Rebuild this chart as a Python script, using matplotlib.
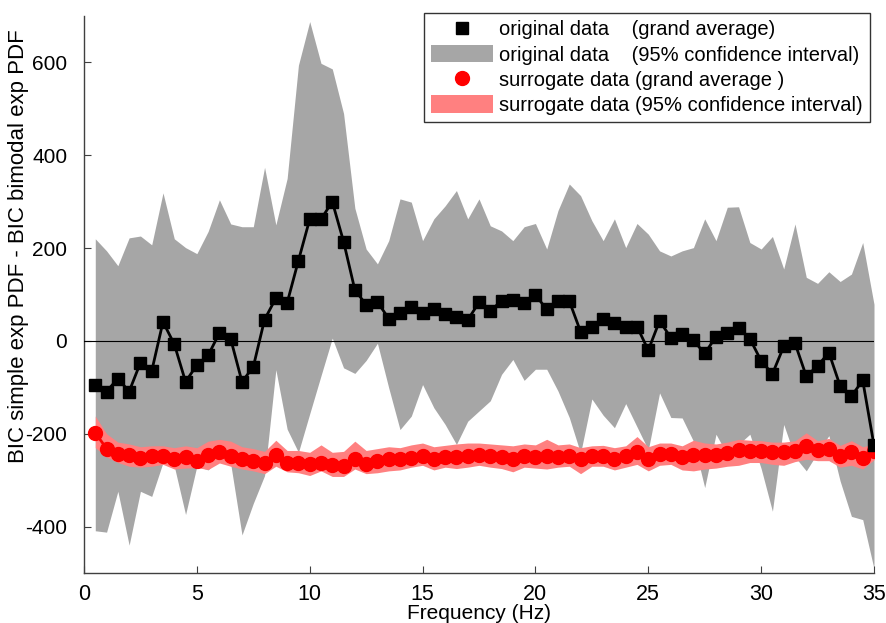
import numpy as np
import matplotlib
matplotlib.use("Agg")
import matplotlib.pyplot as plt
from matplotlib.lines import Line2D
from matplotlib.patches import Patch

plt.rcParams['font.family'] = ['Liberation Sans', 'DejaVu Sans']
plt.rcParams['axes.unicode_minus'] = False

# frequency bins, 0.5 Hz steps
freqs = np.arange(1, 71) * 0.5

orig_mean = [-95, -109, -81, -109, -47, -65, 41, -7, -88, -52,
             -31, 17, 4, -88, -56, 46, 92, 82, 173, 262,
             262, 300, 214, 110, 78, 84, 48, 60, 74, 60,
             68, 58, 52, 45, 83, 65, 86, 88, 81, 99,
             68, 86, 86, 20, 31, 48, 38, 31, 31, -20,
             43, 7, 14, 1, -27, 9, 18, 27, 5, -43,
             -71, -12, -5, -76, -54, -25, -97, -119, -85, -225]

orig_upper = [220, 194, 162, 222, 226, 207, 319, 220, 201, 188,
              236, 304, 252, 246, 246, 374, 250, 350, 594, 688,
              598, 586, 490, 286, 198, 166, 216, 306, 299, 216,
              263, 291, 324, 263, 306, 248, 237, 216, 246, 253,
              198, 281, 338, 313, 259, 216, 263, 201, 253, 230,
              194, 183, 194, 201, 263, 216, 288, 289, 212, 198,
              225, 155, 252, 137, 124, 149, 128, 144, 212, 79]

orig_lower = [-409, -412, -324, -440, -324, -335, -262, -270, -374, -270,
              -278, -252, -265, -418, -350, -290, -62, -190, -240, -157,
              -75, 6, -58, -70, -42, -5, -101, -191, -162, -94,
              -144, -180, -223, -173, -151, -129, -72, -40, -85, -61,
              -61, -108, -165, -242, -125, -160, -187, -135, -185, -235,
              -112, -165, -166, -216, -316, -201, -245, -223, -201, -275,
              -367, -180, -250, -280, -241, -204, -302, -378, -385, -491]

surr_mean = [-198, -232, -243, -245, -253, -248, -248, -254, -250, -259,
             -245, -239, -248, -254, -258, -264, -246, -262, -262, -266,
             -262, -267, -270, -255, -266, -259, -255, -255, -252, -248,
             -255, -250, -250, -247, -245, -248, -250, -255, -248, -250,
             -247, -250, -247, -255, -248, -248, -254, -248, -240, -255,
             -244, -243, -250, -245, -246, -245, -242, -235, -237, -237,
             -240, -240, -237, -227, -236, -233, -247, -240, -252, -238]

surr_upper = [-162, -200, -218, -222, -228, -226, -226, -230, -226, -230,
              -216, -212, -216, -228, -232, -238, -214, -236, -236, -240,
              -224, -240, -238, -216, -236, -232, -228, -230, -224, -220,
              -228, -225, -222, -220, -220, -222, -224, -226, -222, -224,
              -212, -224, -222, -230, -226, -225, -230, -226, -206, -228,
              -220, -220, -226, -214, -220, -222, -218, -212, -214, -215,
              -218, -218, -215, -198, -215, -210, -225, -215, -228, -222]

surr_lower = [-230, -250, -262, -270, -272, -270, -266, -276, -274, -273,
              -277, -263, -270, -276, -280, -286, -270, -282, -284, -290,
              -280, -292, -292, -276, -286, -284, -280, -278, -272, -268,
              -278, -272, -275, -272, -268, -272, -275, -282, -272, -274,
              -276, -272, -270, -286, -270, -270, -278, -272, -266, -280,
              -268, -266, -278, -280, -276, -274, -270, -268, -262, -262,
              -266, -268, -260, -255, -258, -258, -272, -268, -276, -256]

labels = ['original data    (grand average)',
          'original data    (95% confidence interval)',
          'surrogate data (grand average )',
          'surrogate data (95% confidence interval)']

gray = '#a6a6a6'
pink = '#ff8080'

fig = plt.figure(figsize=(8.86, 6.23), dpi=100)
ax = fig.add_axes([84 / 886, 50 / 623, 790 / 886, 557 / 623])

ax.fill_between(freqs, orig_lower, orig_upper, color=gray, lw=0, zorder=1)
ax.fill_between(freqs, surr_lower, surr_upper, color=pink, lw=0, zorder=2)
ax.plot(freqs, surr_mean, '-o', color='#ff0000', lw=2, ms=10, zorder=3)
ax.axhline(0, color='black', lw=0.8, zorder=4)
ax.plot(freqs, orig_mean, '-s', color='black', lw=2, ms=8.5, zorder=5)

ax.set_xlim(0, 35)
ax.set_ylim(-500, 700)
ax.set_xticks(range(0, 36, 5))
ax.set_yticks(range(-400, 601, 200))
ax.spines['top'].set_visible(False)
ax.spines['right'].set_visible(False)
for side in ('left', 'bottom'):
    ax.spines[side].set_color('#404040')
    ax.spines[side].set_linewidth(1.0)
ax.tick_params(direction='in', length=5, width=0.8, color='#404040')
ax.tick_params(axis='x', pad=8, labelsize=15.5)
ax.tick_params(axis='y', pad=12, labelsize=15)

ax.set_xlabel('Frequency (Hz)', fontsize=15, labelpad=-1)
ax.set_ylabel('BIC simple exp PDF - BIC bimodal exp PDF', fontsize=16)
ax.yaxis.set_label_coords(-0.07, 0.587)

handles = [Line2D([], [], ls='none', marker='s', color='black', ms=8),
           Patch(facecolor=gray, edgecolor='none'),
           Line2D([], [], ls='none', marker='o', color='#ff0000', ms=10),
           Patch(facecolor=pink, edgecolor='none')]
leg = fig.legend(handles, labels, loc='upper right',
                 bbox_to_anchor=(870 / 886, 1 - 12.7 / 623), fontsize=14.5,
                 frameon=True, fancybox=False, handlelength=3.1,
                 handleheight=0.95, handletextpad=0.3, labelspacing=0.28,
                 borderpad=0.35, borderaxespad=0)
leg.get_frame().set_edgecolor('black')
leg.get_frame().set_linewidth(1.0)

fig.savefig('out.png', dpi=100)
